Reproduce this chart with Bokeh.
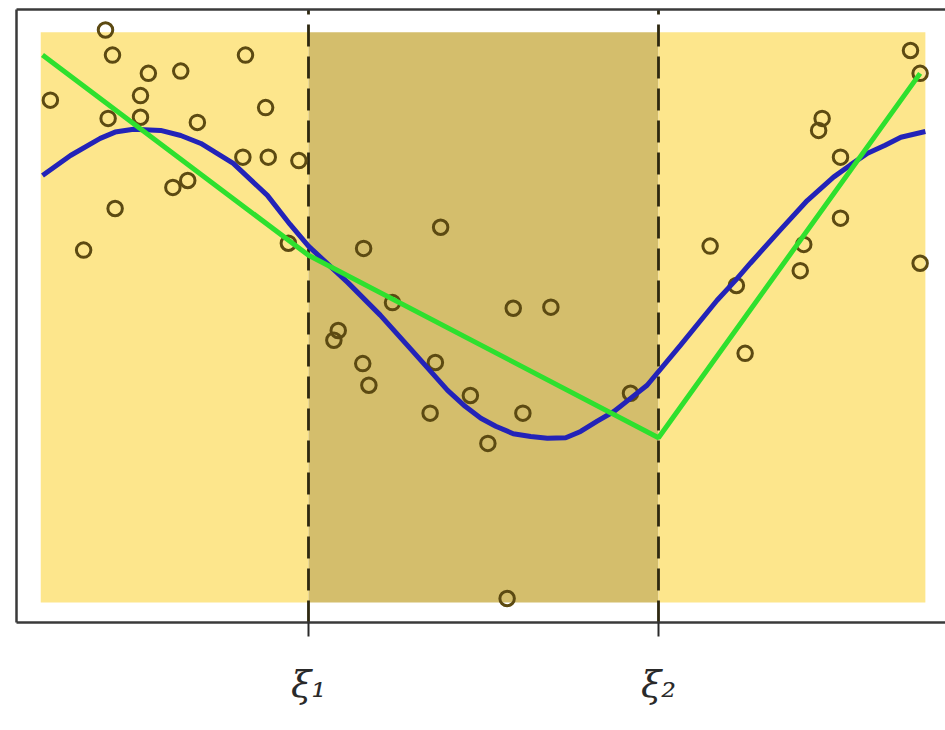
from bokeh.plotting import figure
from bokeh.models import Range1d, FixedTicker, LinearAxis
from bokeh.embed import file_html
from bokeh.resources import INLINE

# ---- data ----
knots = [3.0, 7.0]
knot_labels = {3.0: "ξ₁", 7.0: "ξ₂"}

region_left = [-0.06, 3.0, 7.0]
region_right = [3.0, 7.0, 10.05]
region_colors = ["#FDE68C", "#D4BE6C", "#FDE68C"]
region_bottom = 0.0
region_top = 10.0

pts_x = [0.68, 0.76, 1.17, 1.54, 2.28, 0.05, 1.08, 0.71, 1.08, 1.73, 2.51, 2.25, 2.54, 2.89,
         1.45, 1.62, 0.79, 0.43, 2.77,
         4.51, 3.63, 3.96, 3.34, 3.29, 5.34, 5.77, 3.62, 3.69, 4.45, 4.85, 4.39, 5.45, 5.05, 6.68, 5.27,
         9.88, 9.99, 8.87, 8.83, 9.08, 9.08, 7.59, 8.66, 8.62, 7.89, 7.99, 9.99]
pts_y = [10.04, 9.60, 9.28, 9.32, 9.60, 8.81, 8.89, 8.49, 8.51, 8.42, 8.68, 7.81, 7.81, 7.75,
         7.28, 7.40, 6.91, 6.18, 6.30,
         6.58, 6.21, 5.26, 4.77, 4.60, 5.16, 5.18, 4.19, 3.81, 4.21, 3.63, 3.32, 3.32, 2.79, 3.67, 0.07,
         9.68, 9.28, 8.49, 8.28, 7.81, 6.74, 6.25, 6.28, 5.82, 5.56, 4.37, 5.95]

# piecewise linear fit (green)
lin_x = [-0.04, 3.0, 7.0, 9.99]
lin_y = [9.60, 6.09, 2.89, 9.28]

# smooth cubic fit (blue)
cub_x = [-0.04, 0.28, 0.62, 0.79, 1.00, 1.31, 1.54, 1.77, 2.14, 2.53, 2.79, 3.00, 3.45, 3.82,
         4.20, 4.59, 4.79, 4.97, 5.14, 5.34, 5.54, 5.73, 5.94, 6.11, 6.30, 6.49, 6.68, 6.87,
         7.25, 7.67, 7.88, 8.05, 8.39, 8.70, 9.00, 9.19, 9.39, 9.59, 9.77, 10.05]
cub_y = [7.49, 7.84, 8.14, 8.25, 8.30, 8.28, 8.19, 8.05, 7.70, 7.14, 6.63, 6.25, 5.61, 5.04,
         4.39, 3.72, 3.44, 3.23, 3.09, 2.96, 2.91, 2.88, 2.89, 3.00, 3.18, 3.35, 3.58, 3.81,
         4.51, 5.30, 5.65, 5.95, 6.53, 7.05, 7.46, 7.67, 7.88, 8.02, 8.16, 8.26]

# ---- figure ----
p = figure(width=945, height=714, output_backend="svg", toolbar_location=None,
           x_range=Range1d(-0.337, 10.28), y_range=Range1d(-0.351, 10.40),
           min_border_left=16, min_border_right=0, min_border_top=9, min_border_bottom=92,
           background_fill_color="white", border_fill_color="white")
p.outline_line_color = None
p.grid.visible = False
p.yaxis.visible = False

# frame lines (left & top) via bare axes
for loc in ("left", "above"):
    ax = LinearAxis(ticker=FixedTicker(ticks=[]), major_label_text_font_size="0px",
                    axis_line_color="#3a3a3a", axis_line_width=2.5,
                    major_tick_line_color=None, minor_tick_line_color=None,
                    major_label_standoff=0)
    p.add_layout(ax, loc)

xa = p.below[0]
xa.ticker = FixedTicker(ticks=knots)
xa.major_label_overrides = knot_labels
xa.axis_line_color = "#3a3a3a"
xa.axis_line_width = 2.5
xa.major_tick_line_color = "#2a2a2a"
xa.major_tick_line_width = 2
xa.major_tick_out = 14
xa.major_tick_in = 0
xa.minor_tick_line_color = None
xa.major_label_standoff = 26
xa.major_label_text_font = "DejaVu Serif"
xa.major_label_text_font_style = "italic"
xa.major_label_text_font_size = "37px"
xa.major_label_text_color = "#2a2a2a"

p.quad(left=region_left, right=region_right, bottom=region_bottom, top=region_top,
       fill_color=region_colors, line_color=None)

for k in knots:
    p.segment(x0=k, y0=-0.351, x1=k, y1=10.40, line_color="#2e2810",
              line_width=2.8, line_dash="22 10")

p.scatter(pts_x, pts_y, size=14.5, marker="circle", fill_color=None,
          line_color="#5C4A12", line_width=3)

p.line(cub_x, cub_y, line_color="#2323B8", line_width=5)
p.line(lin_x, lin_y, line_color="#2EE02E", line_width=5)

open("out.html", "w").write(file_html(p, INLINE))
